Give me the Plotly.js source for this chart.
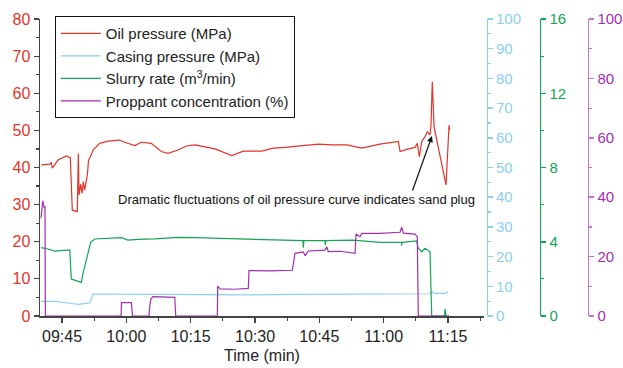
<!DOCTYPE html>
<html>
<head>
<meta charset="utf-8">
<script src="https://cdn.plot.ly/plotly-3.0.1.min.js"></script>
<style>html,body{margin:0;padding:0;background:#fff;}#chart{width:623px;height:368px;}</style>
</head>
<body>
<div id="chart"></div>
<script>
var DAY = '2023-01-01 ';

var oilTime = ['09:40:10','09:42:08','09:42:30','09:42:44','09:44:04','09:46:00','09:46:56','09:47:24','09:48:34','09:48:48','09:48:58','09:49:22','09:49:40','09:49:58','09:50:17','09:50:36','09:50:54','09:51:11','09:51:28','09:52:14','09:53:00','09:53:47','09:55:44','09:58:27','09:59:37','10:01:57','10:03:29','10:05:49','10:08:09','10:09:43','10:12:03','10:13:59','10:16:01','10:20:40','10:24:34','10:27:16','10:31:34','10:34:16','10:36:59','10:40:53','10:44:46','10:47:53','10:51:23','10:54:53','10:59:08','11:03:25','11:03:49','11:05:22','11:07:18','11:07:50','11:08:19','11:08:52','11:09:38','11:10:10','11:10:48','11:11:02','11:11:20','11:11:44','11:14:32','11:15:14','11:15:23'];
var oilPressure = [40.7,40.9,41.4,39.8,42.0,43.1,42.6,28.5,28.1,43.8,32.6,35.5,33.0,36.2,33.9,36.5,38.0,42.0,42.5,44.7,45.6,46.5,47.1,47.4,46.8,45.9,46.8,46.5,44.3,43.8,44.7,45.8,46.1,45.0,43.2,44.4,44.4,45.2,45.4,45.9,46.3,46.1,46.1,45.2,46.3,47.0,44.3,44.9,45.4,46.5,42.9,47.0,48.3,49.6,48.8,51.4,63.1,51.0,35.3,51.4,50.1];

var casingTime = ['09:40:06','09:43:22','09:46:52','09:48:44','09:51:28','09:52:14','10:05:31','10:28:50','10:40:30','11:03:48','11:10:48','11:11:12','11:11:44','11:14:18','11:15:04'];
var casingPressure = [4.9,4.9,4.3,3.9,4.4,7.4,7.3,7.1,7.3,7.4,7.5,8.3,7.6,7.6,8.2];

var slurryTime = ['09:40:06','09:41:44','09:43:18','09:46:48','09:47:10','09:48:20','09:49:30','09:49:54','09:50:40','09:51:04','09:51:41','09:52:37','09:54:58','09:58:50','10:00:23','10:02:43','10:06:37','10:12:03','10:16:01','10:25:20','10:36:59','10:41:11','10:41:16','10:41:23','10:46:19','10:46:23','10:46:30','10:52:51','10:59:08','11:04:10','11:04:12','11:04:16','11:07:42','11:08:04','11:08:52','11:09:38','11:10:48','11:11:12','11:14:11','11:14:18','11:14:32','11:15:14'];
var slurryRate = [3.68,3.61,3.50,3.56,1.99,1.89,1.81,2.30,3.02,3.29,3.97,4.15,4.18,4.22,4.09,4.13,4.15,4.24,4.22,4.15,4.09,4.06,3.68,4.06,4.06,3.82,4.06,4.09,3.97,3.97,3.79,3.97,4.04,3.65,3.46,3.65,3.46,0,0,0.38,0,0];

var proppantTime = ['09:40:06','09:40:30','09:40:52','09:41:02','09:41:07','09:58:46','09:58:52','10:01:10','10:01:26','10:05:17','10:05:31','10:05:45','10:06:13','10:08:47','10:11:17','10:11:31','10:21:13','10:21:18','10:21:50','10:25:20','10:28:26','10:28:36','10:33:30','10:38:42','10:39:19','10:41:16','10:41:40','10:42:26','10:46:19','10:46:43','10:47:05','10:49:49','10:53:19','10:53:33','10:54:29','10:54:53','10:59:08','11:03:49','11:04:12','11:04:35','11:07:18','11:07:50','11:08:04','11:15:14'];
var proppantConc = [32.9,38.8,36.3,37.0,0,0,4.5,4.5,0,0,4.0,5.8,6.5,6.4,6.3,0,0,10.1,9.1,9.0,9.3,15.3,15.2,15.4,21.1,21.6,20.3,21.9,22.2,23.3,21.7,21.8,21.1,27.6,26.7,27.8,27.8,28.2,29.9,27.9,27.6,26.7,0,0];

function toDate(arr){ return arr.map(function(t){ return DAY + t; }); }

var RED = '#e6332a', BLUE = '#8ccfec', GREEN = '#13a556', PURPLE = '#a52db0', PURPLE_AX = '#c774cc';
var FONT = 'Liberation Sans, Arial, sans-serif';

var traces = [
  {x: toDate(oilTime), y: oilPressure, name: 'Oil pressure (MPa)', type: 'scatter', mode: 'lines', line: {color: RED, width: 1.2}, yaxis: 'y'},
  {x: toDate(casingTime), y: casingPressure, name: 'Casing pressure (MPa)', type: 'scatter', mode: 'lines', line: {color: BLUE, width: 1.2}, yaxis: 'y2'},
  {x: toDate(slurryTime), y: slurryRate, name: 'Slurry rate (m<sup>3</sup>/min)', type: 'scatter', mode: 'lines', line: {color: GREEN, width: 1.2}, yaxis: 'y3'},
  {x: toDate(proppantTime), y: proppantConc, name: 'Proppant concentration (%)', type: 'scatter', mode: 'lines', line: {color: PURPLE, width: 1.2}, yaxis: 'y4'}
];

function rightAxis(pos, range, dtick, mdtick, lineColor, labelColor){
  return {
    overlaying: 'y', side: 'right', anchor: 'free', position: pos,
    range: range, dtick: dtick, tick0: 0, showgrid: false, zeroline: false,
    showline: true, linecolor: lineColor, linewidth: 1.5,
    ticks: 'outside', ticklen: 5, tickwidth: 1.5, tickcolor: lineColor,
    tickfont: {family: FONT, size: 15, color: labelColor},
    minor: {dtick: mdtick, tick0: 0, ticks: 'outside', ticklen: 3, tickwidth: 1.2, tickcolor: lineColor}
  };
}

var layout = {
  width: 623, height: 368,
  margin: {l: 40, r: 34, t: 19, b: 52},
  paper_bgcolor: '#fff', plot_bgcolor: '#fff',
  font: {family: FONT, color: '#222'},
  showlegend: true,
  legend: {x: 0.027, y: 1.01, xanchor: 'left', yanchor: 'top', bordercolor: '#111', borderwidth: 1, bgcolor: 'rgba(255,255,255,0)', font: {family: FONT, size: 15, color: '#222'}, itemwidth: 40, tracegroupgap: 0},
  xaxis: {
    type: 'date', domain: [0, 0.8087],
    range: [DAY + '09:39:52', DAY + '11:23:23'],
    tick0: DAY + '09:45:00', dtick: 900000, tickformat: '%H:%M',
    showgrid: false, zeroline: false, showline: true, linecolor: '#444', linewidth: 1.5,
    ticks: 'outside', ticklen: 5, tickwidth: 1.2, tickcolor: '#444',
    minor: {dtick: 450000, tick0: DAY + '09:45:00', ticks: 'outside', ticklen: 3, tickwidth: 1.2, tickcolor: '#444'},
    tickfont: {family: FONT, size: 16, color: '#222'},
    title: {text: 'Time (min)', font: {family: FONT, size: 16, color: '#222'}, standoff: 6},
    layer: 'below traces'
  },
  yaxis: {
    range: [0, 80], dtick: 10, tick0: 0, showgrid: false, zeroline: false,
    showline: true, linecolor: '#444', linewidth: 1.5,
    ticks: 'outside', ticklen: 5, tickwidth: 1.2, tickcolor: '#444',
    minor: {dtick: 5, tick0: 0, ticks: 'outside', ticklen: 3, tickwidth: 1.2, tickcolor: '#444'},
    tickfont: {family: FONT, size: 16, color: RED},
    layer: 'below traces'
  },
  yaxis2: rightAxis(0.8133, [0, 100], 10, 5, BLUE, BLUE),
  yaxis3: rightAxis(0.9107, [0, 16], 4, 2, GREEN, GREEN),
  yaxis4: rightAxis(0.998, [0, 100], 20, 10, PURPLE_AX, PURPLE),
  annotations: [
    {xref: 'paper', yref: 'paper', x: 0.467, y: 0.3906, text: 'Dramatic fluctuations of oil pressure curve indicates sand plug', showarrow: false, font: {family: FONT, size: 13, color: '#111'}},
    {xref: 'paper', yref: 'paper', x: 0.714, y: 0.606, text: '', showarrow: true, ax: -20, ay: 56, arrowhead: 2, arrowsize: 1, arrowwidth: 1.2, arrowcolor: '#111'}
  ]
};

Plotly.newPlot('chart', traces, layout, {displayModeBar: false, staticPlot: true});
</script>
</body>
</html>
